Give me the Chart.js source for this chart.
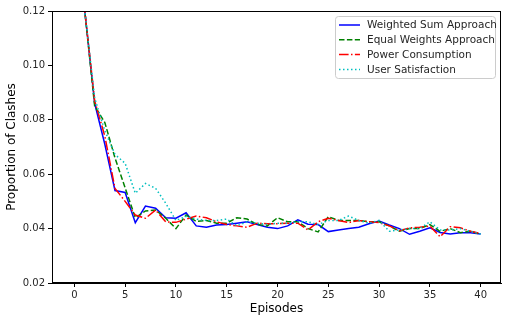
<!DOCTYPE html>
<html>
<head>
<meta charset="utf-8">
<script src="https://cdn.jsdelivr.net/npm/chart.js@4/dist/chart.umd.min.js"></script>
<style>
  html, body { margin: 0; padding: 0; background: #fff; }
  #wrap { width: 507px; height: 324px; }
</style>
</head>
<body>
<div id="wrap"><canvas id="chart" width="507" height="324"></canvas></div>
<script>
var episodes = [0,1,2,3,4,5,6,7,8,9,10,11,12,13,14,15,16,17,18,19,20,21,22,23,24,25,26,27,28,29,30,31,32,33,34,35,36,37,38,39,40];
var weightedSum = [0.20,0.121,0.086,0.071,0.054,0.0533,0.0422,0.0483,0.0475,0.044,0.0438,0.0458,0.041,0.0405,0.0413,0.0415,0.042,0.0425,0.0415,0.0405,0.040,0.041,0.0432,0.0416,0.0415,0.0389,0.0395,0.040,0.0405,0.0418,0.0428,0.0413,0.040,0.0379,0.039,0.0403,0.0386,0.038,0.0385,0.0385,0.038];
var equalWeights = [0.20,0.121,0.085,0.079,0.066,0.055,0.044,0.0465,0.0468,0.0438,0.040,0.045,0.0426,0.043,0.042,0.042,0.044,0.0435,0.0415,0.041,0.044,0.0425,0.0425,0.040,0.0388,0.0444,0.043,0.043,0.043,0.0425,0.0425,0.041,0.039,0.040,0.040,0.0415,0.039,0.040,0.0385,0.039,0.038];
var powerCons = [0.20,0.121,0.087,0.074,0.0548,0.050,0.045,0.0438,0.0468,0.0425,0.0423,0.0435,0.0446,0.044,0.0425,0.0415,0.041,0.0405,0.042,0.0418,0.0418,0.042,0.042,0.0395,0.0425,0.0438,0.043,0.0422,0.043,0.0425,0.0422,0.041,0.0392,0.0403,0.0405,0.0409,0.037,0.0407,0.0403,0.039,0.0382];
var userSat = [0.20,0.121,0.088,0.076,0.0673,0.064,0.053,0.0566,0.0548,0.0493,0.043,0.0445,0.0435,0.043,0.043,0.0435,0.041,0.0425,0.042,0.0415,0.042,0.042,0.0425,0.0425,0.0415,0.043,0.043,0.0446,0.043,0.042,0.043,0.039,0.0395,0.040,0.040,0.0425,0.0395,0.0395,0.040,0.039,0.038];
var seriesNames = ['Weighted Sum Approach', 'Equal Weights Approach', 'Power Consumption', 'User Satisfaction'];
var xTicks = [0,5,10,15,20,25,30,35,40];
var yTicks = [0.02,0.04,0.06,0.08,0.10,0.12];

function pts(arr) {
  return arr.map(function (v, i) { return { x: episodes[i], y: v }; });
}

var styles = [
  { color: '#0000ff', dash: [] },
  { color: '#008000', dash: [5.5, 2.4] },
  { color: '#ff0000', dash: [9.6, 2.4, 1.5, 2.4] },
  { color: '#00bfbf', dash: [1.5, 2.5] }
];
var allSeries = [weightedSum, equalWeights, powerCons, userSat];

var datasets = allSeries.map(function (s, i) {
  return {
    label: seriesNames[i],
    data: pts(s),
    borderColor: styles[i].color,
    borderDash: styles[i].dash,
    borderWidth: 1.5,
    pointRadius: 0,
    fill: false,
    tension: 0,
    order: 4 - i
  };
});

var font = 'DejaVu Sans';

// frame + legend like matplotlib
var framePlugin = {
  id: 'frame',
  afterDatasetsDraw: function (chart) {
    var c = chart.ctx, a = chart.chartArea;
    c.save();
    c.strokeStyle = '#000';
    c.lineWidth = 1;
    c.strokeRect(Math.round(a.left) + 0.5, Math.round(a.top) + 0.5,
      Math.round(a.right - a.left) - 1, Math.round(a.bottom - a.top) - 1);

    // legend box
    var bx = 335.5, by = 16.5, bw = 160, bh = 62;
    c.fillStyle = 'rgba(255,255,255,0.8)';
    c.strokeStyle = '#cccccc';
    c.beginPath();
    if (c.roundRect) c.roundRect(bx, by, bw, bh, 3); else c.rect(bx, by, bw, bh);
    c.fill();
    c.stroke();
    c.font = '10.5px "' + font + '"';
    c.textBaseline = 'middle';
    for (var i = 0; i < seriesNames.length; i++) {
      var yy = 25 + i * 14.8;
      c.strokeStyle = styles[i].color;
      c.lineWidth = 1.5;
      c.setLineDash(styles[i].dash);
      c.beginPath();
      c.moveTo(339, yy);
      c.lineTo(360, yy);
      c.stroke();
      c.setLineDash([]);
      c.fillStyle = '#262626';
      c.fillText(seriesNames[i], 367, yy + 0.5);
    }
    c.restore();
  }
};

new Chart(document.getElementById('chart'), {
  type: 'line',
  data: { datasets: datasets },
  plugins: [framePlugin],
  options: {
    responsive: false,
    animation: false,
    layout: { padding: { top: 11, right: 6, left: 0, bottom: 0 } },
    plugins: { legend: { display: false }, tooltip: { enabled: false } },
    scales: {
      x: {
        type: 'linear',
        min: -2.2,
        max: 42,
        afterBuildTicks: function (axis) {
          axis.ticks = xTicks.map(function (v) { return { value: v }; });
        },
        afterFit: function (axis) { axis.height = 41; },
        grid: { drawOnChartArea: false, drawTicks: true, tickLength: 4, color: '#000' },
        border: { display: true, color: '#000' },
        ticks: { color: '#262626', font: { family: font, size: 10 }, padding: 2, maxRotation: 0 },
        title: { display: true, text: 'Episodes', color: '#000', font: { family: font, size: 12 }, padding: { top: 1, bottom: 8 } }
      },
      y: {
        type: 'linear',
        min: 0.02,
        max: 0.12,
        afterBuildTicks: function (axis) {
          axis.ticks = yTicks.map(function (v) { return { value: v }; });
        },
        afterFit: function (axis) { axis.width = 52; },
        grid: { drawOnChartArea: false, drawTicks: true, tickLength: 4, color: '#000' },
        border: { display: true, color: '#000' },
        ticks: {
          color: '#262626', font: { family: font, size: 10 }, padding: 3,
          callback: function (v) { return v.toFixed(2); }
        },
        title: { display: true, text: 'Proportion of Clashes', color: '#000', font: { family: font, size: 12 }, padding: { top: 5, bottom: 2 } }
      }
    }
  }
});
</script>
</body>
</html>
